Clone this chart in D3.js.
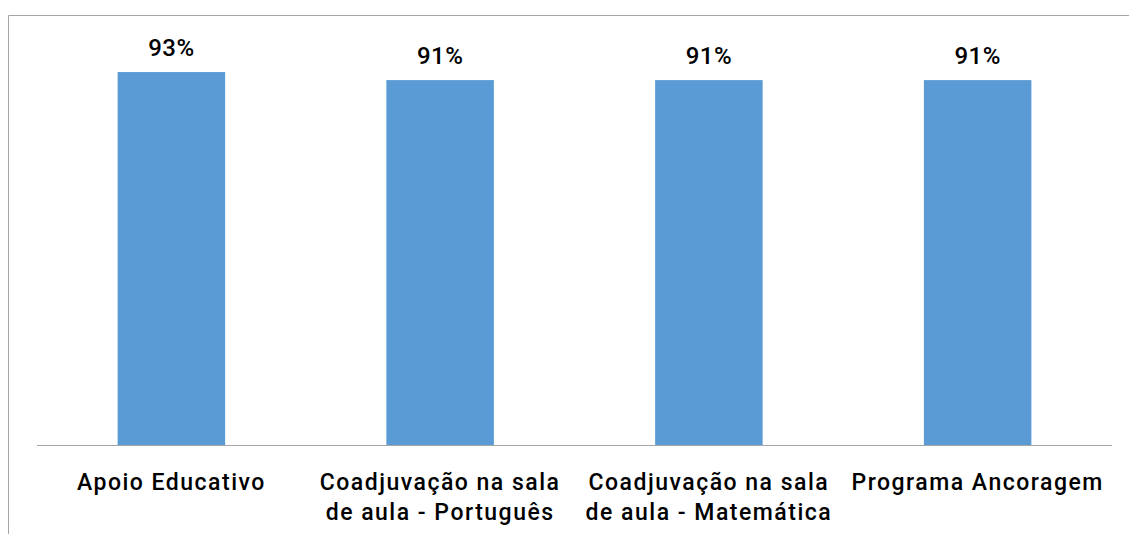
<!DOCTYPE html>
<html>
<head>
<meta charset="utf-8">
<script src="https://cdn.jsdelivr.net/npm/d3@7"></script>
<style>
  html, body { margin: 0; padding: 0; background: #fff; }
  svg { display: block; }
  text { font-family: Roboto, "DejaVu Sans", sans-serif; fill: #000; }
</style>
</head>
<body>
<svg id="chart" width="1129" height="534"></svg>
<script>
// Share of respondents per support measure
const categories = [
  ["Apoio Educativo"],
  ["Coadjuvação na sala", "de aula - Português"],
  ["Coadjuvação na sala", "de aula - Matemática"],
  ["Programa Ancoragem"]
];
const values = [0.93, 0.91, 0.91, 0.91];
const valueLabels = ["93%", "91%", "91%", "91%"];

const svg = d3.select("#chart");
const W = 1129, H = 534;

// chart frame (clipped on the right and bottom)
svg.append("path")
  .attr("d", `M8.5,${H} V15.5 H${W}`)
  .attr("fill", "none")
  .attr("stroke", "#a6a6a6")
  .attr("stroke-width", 1);

const plot = { left: 37, right: 1112, top: 44, bottom: 445 };

const x = d3.scaleBand()
  .domain(d3.range(categories.length))
  .range([plot.left, plot.right])
  .paddingInner(0.6)
  .paddingOuter(0.3);

const y = d3.scaleLinear()
  .domain([0, 1])
  .range([plot.bottom, plot.top]);

svg.append("g")
  .selectAll("rect")
  .data(values)
  .join("rect")
  .attr("x", (d, i) => x(i))
  .attr("y", d => y(d))
  .attr("width", x.bandwidth())
  .attr("height", d => y(0) - y(d))
  .attr("fill", "#5b9bd5");

// category axis
const axis = svg.append("g")
  .attr("transform", `translate(0,${plot.bottom})`)
  .call(d3.axisBottom(x).tickSize(0).tickFormat(""));
axis.select(".domain").attr("stroke", "#a6a6a6").attr("d", `M${plot.left},0.5H${plot.right}`);

axis.selectAll(".tick")
  .append("text")
  .attr("text-anchor", "middle")
  .style("font-size", "23px")
  .style("font-weight", "500")
  .style("letter-spacing", "1.5px")
  .each(function(d) {
    const t = d3.select(this);
    categories[d].forEach((line, k) => {
      t.append("tspan")
        .attr("x", 0)
        .attr("y", 45 + k * 30)
        .text(line);
    });
  });

// value labels
svg.append("g")
  .selectAll("text")
  .data(values)
  .join("text")
  .attr("x", (d, i) => x(i) + x.bandwidth() / 2)
  .attr("y", d => y(d) - 16)
  .attr("text-anchor", "middle")
  .style("font-size", "24px")
  .style("font-weight", "500")
  .style("letter-spacing", "0.5px")
  .text((d, i) => valueLabels[i]);
</script>
</body>
</html>
